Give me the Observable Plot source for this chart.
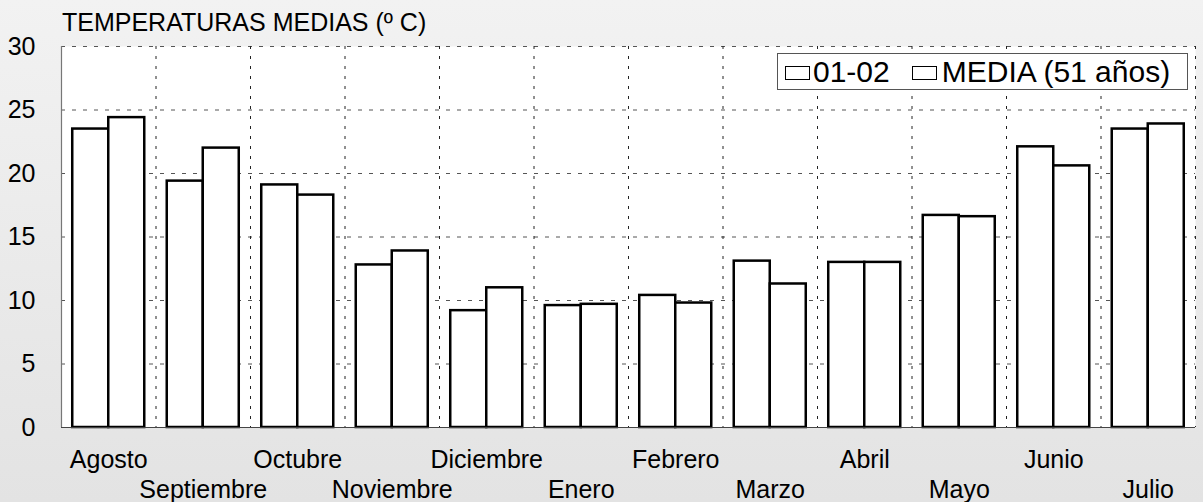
<!DOCTYPE html>
<html>
<head>
<meta charset="utf-8">
<script src="https://cdn.jsdelivr.net/npm/d3@7"></script>
<script src="https://cdn.jsdelivr.net/npm/@observablehq/plot@0.6"></script>
<style>
  html, body { margin: 0; padding: 0; }
  body { width: 1203px; height: 502px; overflow: hidden; font-family: "Liberation Sans", Arial, sans-serif;
         background: linear-gradient(#f2f2f2, #e3e3e3); }
  #wrap { position: relative; width: 1203px; height: 502px; }
  #title { position: absolute; left: 62px; top: 8px; font-size: 25px; line-height: 28px; color: #000; white-space: nowrap; }
  #legend { position: absolute; left: 777px; top: 53px; width: 409px; height: 35px; background: #fff;
            border: 1px solid #555; font-size: 30px; line-height: 35px; color: #000; white-space: nowrap; }
  .sw { display: inline-block; box-sizing: border-box; width: 25px; height: 14px; border: 1.5px solid #000; background: #fff; margin: 0 3px 0 7px; vertical-align: 2px; }
  .sw2 { margin-left: 22px; margin-right: 5px; }
  svg { position: absolute; left: 0; top: 0; }
</style>
</head>
<body>
<div id="wrap">
  <div id="chart"></div>
  <div id="title">TEMPERATURAS MEDIAS (º C)</div>
  <div id="legend"><span class="sw"></span>01-02<span class="sw sw2"></span>MEDIA (51 años)</div>
</div>
<script>
const months = ["Agosto","Septiembre","Octubre","Noviembre","Diciembre","Enero","Febrero","Marzo","Abril","Mayo","Junio","Julio"];
const series = ["01-02", "MEDIA (51 años)"];
const temp0102 = [23.5, 19.4, 19.1, 12.8, 9.2, 9.6, 10.4, 13.1, 13.0, 16.7, 22.1, 23.5];
const tempMedia = [24.4, 22.0, 18.3, 13.9, 11.0, 9.7, 9.8, 11.3, 13.0, 16.6, 20.6, 23.9];
const yTicks = [0, 5, 10, 15, 20, 25, 30];

const rows = [];
months.forEach((m, i) => {
  rows.push({month: m, i, s: 0, series: series[0], value: temp0102[i]});
  rows.push({month: m, i, s: 1, series: series[1], value: tempMedia[i]});
});

const groupPad = 0.119, barW = 0.381;
const boundaries = d3.range(1, months.length + 1);
const monthIdx = months.map((m, i) => ({m, i}));

const chart = Plot.plot({
  width: 1203,
  height: 502,
  marginLeft: 61,
  marginRight: 8,
  marginTop: 46,
  marginBottom: 75,
  style: {background: "transparent", fontFamily: "Liberation Sans, Arial, sans-serif", color: "#000", overflow: "visible"},
  x: {domain: [0, months.length], axis: null},
  y: {domain: [0, 30], axis: null},
  marks: [
    Plot.frame({fill: "white", stroke: "none"}),
    Plot.ruleY(yTicks.filter(t => t > 0), {stroke: "#555", strokeWidth: 1, strokeDasharray: "4,7"}),
    Plot.ruleX(boundaries, {stroke: "#222", strokeWidth: 1, strokeDasharray: "3,7"}),
    Plot.ruleX([0], {stroke: "#777", strokeWidth: 1.2}),
    Plot.rectY(rows, {
      x1: d => d.i + groupPad + d.s * barW,
      x2: d => d.i + groupPad + (d.s + 1) * barW,
      y1: 0, y2: "value",
      fill: "white", stroke: "#000", strokeWidth: 2.5
    }),
    Plot.ruleY([0], {stroke: "#444", strokeWidth: 1.2}),
    Plot.axisY({ticks: yTicks, tickSize: 0, tickPadding: 26, fontSize: 25, tickFormat: d => d, label: null}),
    Plot.text(monthIdx.filter(d => d.i % 2 === 0), {x: d => d.i + 0.5, y: 0, text: "m", dy: 32, fontSize: 25, fill: "#000"}),
    Plot.text(monthIdx.filter(d => d.i % 2 === 1), {x: d => d.i + 0.5, y: 0, text: "m", dy: 62, fontSize: 25, fill: "#000"})
  ]
});
document.getElementById("chart").appendChild(chart);
</script>
</body>
</html>
